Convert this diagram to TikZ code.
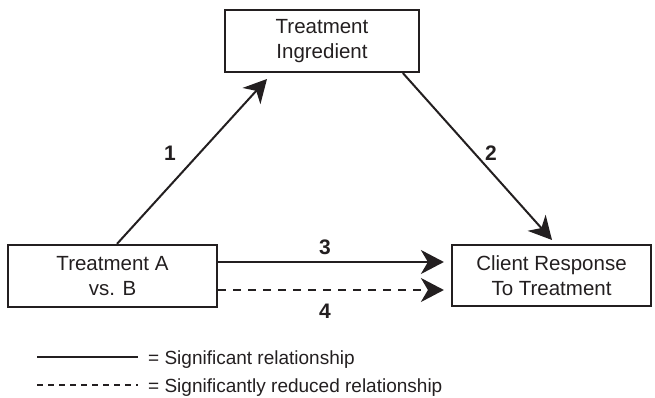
\documentclass[tikz,border=0pt]{standalone}
\usepackage{fontspec}
\setmainfont{Liberation Sans}
\usetikzlibrary{arrows.meta,calc}
\definecolor{ink}{RGB}{35,31,32}
\begin{document}
\begin{tikzpicture}[x=1pt,y=-1pt,
  box/.style={draw=ink,line width=2.2pt,align=center,inner sep=0pt,font=\fontsize{20.5}{25}\selectfont,text=ink},
  conn/.style={draw=ink,line width=2pt,-{Stealth[length=23pt,width=24pt,inset=7pt]}},
  num/.style={font=\fontsize{21}{24}\selectfont\bfseries,text=ink,inner sep=0pt},
  legtext/.style={font=\fontsize{19}{22}\selectfont,text=ink,inner sep=0pt,anchor=base west},
  legline/.style={draw=ink,line width=1.3pt}]
\useasboundingbox (0,0) rectangle (655,398);
\node[box,minimum width=194pt,minimum height=62pt] (ing) at (322,41) {Treatment\\Ingredient};
\node[box,minimum width=209pt,minimum height=62pt] (trt) at (112.5,276) {Treatment A\\vs. B};
\node[box,minimum width=199pt,minimum height=61pt] (cli) at (551.5,275.5) {Client Response\\To Treatment};
\coordinate (t1) at (267,79);
\coordinate (t2) at (552,240);
\draw[conn] ($(trt.north)+(4.5,0)$) -- (t1);
\draw[conn] ($(ing.south west)+(179,0)$) -- (t2);
\draw[conn] (trt.east |- 0,262) -- ($(cli.west |- 0,262)+(-7,0)$);
\draw[conn,dash pattern=on 8pt off 7pt] (trt.east |- 0,290) -- ($(cli.west |- 0,290)+(-7,0)$);
\node[num] (n1) at (170,153) {1};
\node[num] (n2) at (491,153) {2};
\node[num] (n3) at (325,247.5) {3};
\node[num] (n4) at (325,311) {4};
\coordinate (l1a) at (37,357);
\coordinate (l1b) at (138,357);
\coordinate (l2a) at (37,385);
\coordinate (l2b) at (138,385);
\draw[legline] (l1a) -- (l1b);
\draw[legline,dash pattern=on 6pt off 5pt] (l2a) -- (l2b);
\node[legtext] (lt1) at (148,364) {= Significant relationship};
\node[legtext] (lt2) at (148,392) {= Significantly reduced relationship};
\end{tikzpicture}
\end{document}
